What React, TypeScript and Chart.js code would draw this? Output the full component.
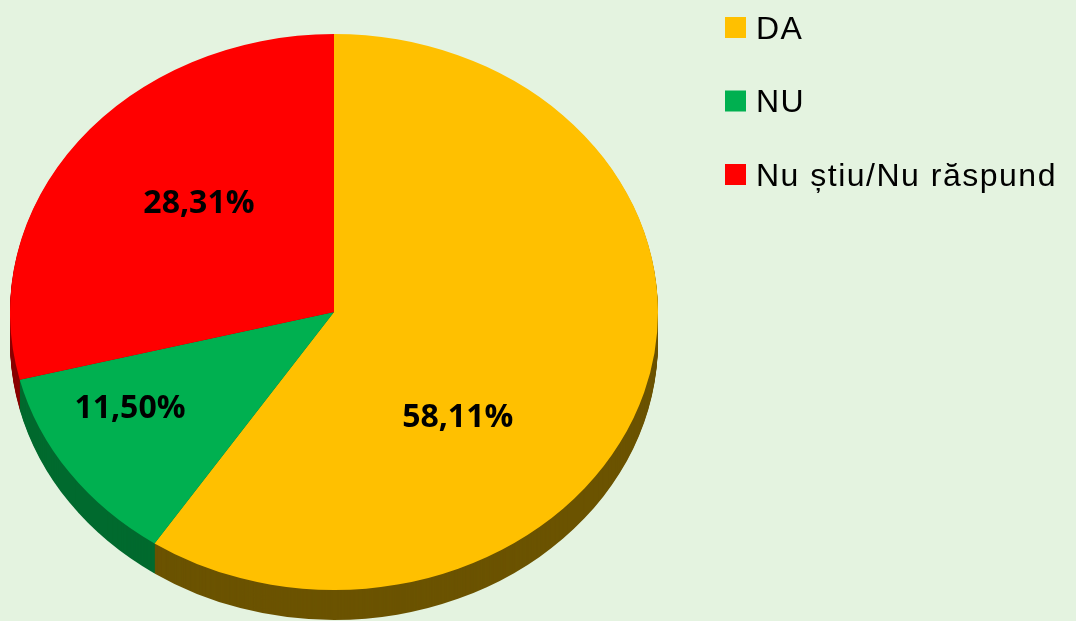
import React, { useEffect, useRef } from "react";
import { Chart, registerables } from "chart.js";

Chart.register(...registerables);

// ---- data ----
const categories = ["DA", "NU", "Nu știu/Nu răspund"];
const values = [58.11, 11.5, 28.31];
const valueLabels = ["58,11%", "11,50%", "28,31%"];

// ---- styles ----
const topColors = ["#ffc000", "#00b050", "#ff0000"];
const sideColors = ["#6b5300", "#006a2e", "#8a0000"];
const labelAngles = [135, 241, 313]; // degrees clockwise from 12 o'clock
const labelRadii = [0.54, 0.72, 0.57]; // fraction of the outer radius
const BG = "#e4f3e0";
const SQUASH = 278 / 324;
const DEPTH = 30;
const CANVAS_W = 1076;
const CANVAS_H = 700;
const CANVAS_TOP = -20;

const pie3d = {
  id: "pie3d",
  beforeDatasetsDraw(chart: any) {
    const ctx = chart.ctx as CanvasRenderingContext2D;
    const arcs = chart.getDatasetMeta(0).data;
    if (!arcs.length) return;
    const cx = arcs[0].x;
    const cy = arcs[0].y;
    const setScale = (dy: number) => {
      ctx.translate(cx, cy + dy);
      ctx.scale(1, SQUASH);
      ctx.translate(-cx, -cy);
    };
    for (let d = DEPTH; d >= 1; d--) {
      ctx.save();
      setScale(d);
      arcs.forEach((arc: any, i: number) => {
        const p = arc.getProps(["startAngle", "endAngle", "outerRadius"]);
        ctx.beginPath();
        ctx.moveTo(cx, cy);
        ctx.arc(cx, cy, p.outerRadius, p.startAngle, p.endAngle);
        ctx.closePath();
        ctx.fillStyle = sideColors[i];
        ctx.fill();
      });
      ctx.restore();
    }
    ctx.save();
    setScale(0);
  },
  afterDatasetsDraw(chart: any) {
    const ctx = chart.ctx as CanvasRenderingContext2D;
    const arcs = chart.getDatasetMeta(0).data;
    if (!arcs.length) return;
    ctx.restore();
    const cx = arcs[0].x;
    const cy = arcs[0].y;
    ctx.save();
    ctx.font = 'bold 32px "Open Sans"';
    ctx.fillStyle = "#000";
    ctx.textAlign = "center";
    ctx.textBaseline = "middle";
    arcs.forEach((arc: any, i: number) => {
      const R = arc.outerRadius;
      const a = (labelAngles[i] * Math.PI) / 180;
      const x = cx + labelRadii[i] * R * Math.sin(a);
      const y = cy - labelRadii[i] * R * Math.cos(a) * SQUASH;
      ctx.fillText(valueLabels[i], x, y);
    });
    ctx.restore();
  },
  afterDraw(chart: any) {
    const ctx = chart.ctx as CanvasRenderingContext2D;
    const boxX = chart.chartArea.right + 67;
    const box = 21;
    const step = 73.5;
    const top0 = 17 - CANVAS_TOP;
    ctx.save();
    ctx.font = '32px "Liberation Sans"';
    (ctx as any).letterSpacing = "1.5px";
    ctx.textAlign = "left";
    ctx.textBaseline = "alphabetic";
    chart.data.labels.forEach((lab: string, i: number) => {
      const y = top0 + i * step;
      ctx.fillStyle = chart.data.datasets[0].backgroundColor[i];
      ctx.fillRect(boxX, y, box, box);
      ctx.fillStyle = "#000";
      ctx.fillText(lab, boxX + 31, y + box + 0.5);
    });
    ctx.restore();
  },
};

export default function App() {
  const ref = useRef<HTMLCanvasElement | null>(null);

  useEffect(() => {
    let chart: Chart | null = null;
    let cancelled = false;
    const make = () => {
      if (cancelled || !ref.current) return;
      chart = new Chart(ref.current, {
        type: "pie",
        data: {
          labels: categories,
          datasets: [
            {
              data: values,
              backgroundColor: topColors,
              borderWidth: 0,
              clip: false,
            } as any,
          ],
        },
        options: {
          animation: false,
          responsive: false,
          devicePixelRatio: 1,
          rotation: 0,
          layout: {
            padding: {
              left: 10,
              right: CANVAS_W - 658,
              top: 8,
              bottom: CANVAS_H - 8 - 648,
            },
          },
          plugins: {
            legend: { display: false },
            tooltip: { enabled: false },
          },
        },
        plugins: [pie3d],
      });
    };
    const fonts = (document as any).fonts;
    if (fonts && fonts.load) {
      Promise.all([
        fonts.load('bold 32px "Open Sans"'),
        fonts.load('32px "Liberation Sans"'),
      ])
        .catch(() => {})
        .then(make);
    } else {
      make();
    }
    return () => {
      cancelled = true;
      if (chart) chart.destroy();
    };
  }, []);

  return (
    <div
      style={{
        position: "fixed",
        left: 0,
        top: 0,
        width: CANVAS_W,
        height: 621,
        overflow: "hidden",
        background: BG,
      }}
    >
      <canvas
        ref={ref}
        width={CANVAS_W}
        height={CANVAS_H}
        style={{ position: "absolute", left: 0, top: CANVAS_TOP }}
      />
    </div>
  );
}
